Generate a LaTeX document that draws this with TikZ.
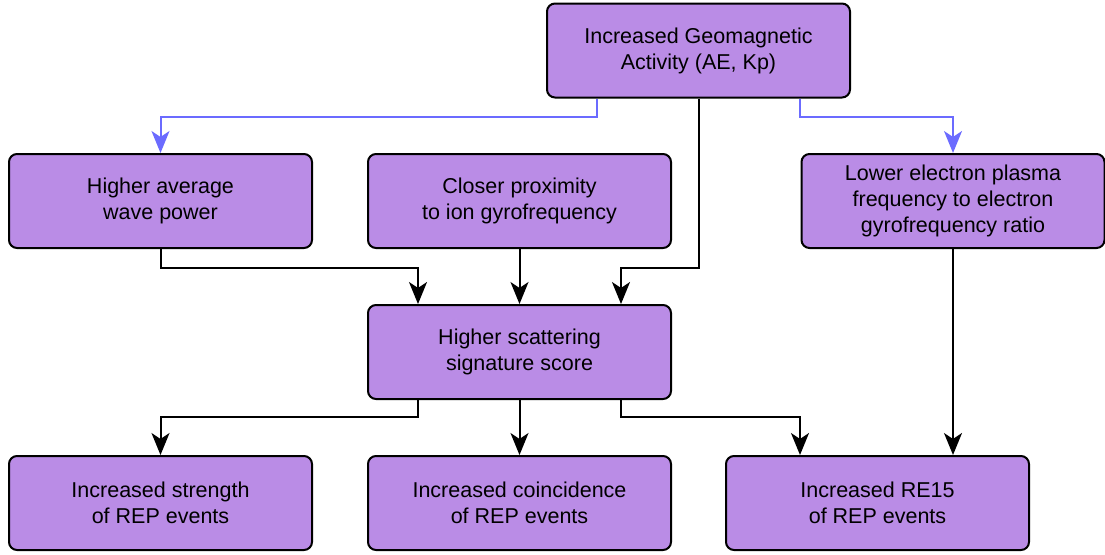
\documentclass[tikz,border=0pt]{standalone}
\usepackage{fontspec}
\setmainfont{Liberation Sans}
\usetikzlibrary{arrows.meta, positioning}
\definecolor{boxfill}{HTML}{BA8CE6}
\definecolor{linkblue}{HTML}{6B6BFF}

\begin{document}
\begin{tikzpicture}[x=1pt, y=-1pt,
    box/.style={draw, line width=2pt, rounded corners=8pt, fill=boxfill, minimum width=303pt, minimum height=94pt, align=center, font=\fontsize{21.5}{26}\selectfont},
    arr/.style={line width=2pt, -{Stealth[length=22pt, width=18pt, inset=6pt]}},
    bluearr/.style={arr, color=linkblue}]
            \useasboundingbox (0,0) rectangle (1105,554);
            \node[box] (Geo) at (698.5,50.5) {Increased Geomagnetic\\Activity (AE, Kp)};
            \node[box] (Wave) at (160.5,201) {Higher average\\wave power};
            \node[box] (Ion) at (519.5,201) {Closer proximity\\to ion gyrofrequency};
            \node[box] (Plasma) at (953,201) {Lower electron plasma\\frequency to electron\\gyrofrequency ratio};
            \node[box] (Score) at (519.5,352) {Higher scattering\\signature score};
            \node[box] (Strength) at (160.5,503) {Increased strength\\of REP events};
            \node[box] (Coinc) at (519.5,503) {Increased coincidence\\of REP events};
            \node[box] (RE) at (877.5,503) {Increased RE15\\of REP events};
            
            \draw[bluearr] ([xshift=-101.5pt]Geo.south) -- ++(0,18) -| (Wave.north);
            \draw[bluearr] ([xshift=101.5pt]Geo.south) -- ++(0,18) -| (Plasma.north);
            \draw[arr] (Geo.south) -- ++(0,169) -| ([xshift=101.5pt]Score.north);
            \draw[arr] (Wave.south) -- ++(0,19) -| ([xshift=-101.5pt]Score.north);
            \draw[arr] (Ion.south) -- (Score.north);
            \draw[arr] (Plasma.south) -- (Plasma.south |- RE.north);
            \draw[arr] ([xshift=-101.5pt]Score.south) -- ++(0,17) -| (Strength.north);
            \draw[arr] (Score.south) -- (Coinc.north);
            \draw[arr] ([xshift=101.5pt]Score.south) -- ++(0,17) -| ([xshift=-77.5pt]RE.north);
        \end{tikzpicture}
\end{document}
